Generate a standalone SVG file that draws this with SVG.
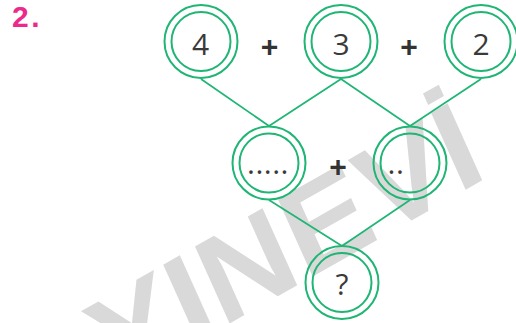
<svg xmlns="http://www.w3.org/2000/svg" width="516" height="323" viewBox="0 0 516 323">
  <style>
    .ring { fill: none; stroke: #1fb574; stroke-width: 2; }
    .conn { fill: none; stroke: #1fb574; stroke-width: 1.7; }
    .num { font-family: "Open Sans", "Liberation Sans", sans-serif; font-size: 30px; fill: #3a3a3a; text-anchor: middle; }
    .op { font-family: "Liberation Sans", sans-serif; font-size: 30px; font-weight: bold; fill: #333; text-anchor: middle; }
    .wm { font-family: "Liberation Sans", sans-serif; font-size: 123px; font-weight: bold; fill: #d9d9d9; }
  </style>
  <rect width="516" height="323" fill="#ffffff"/>

  <g id="watermark">
    <text class="wm" transform="matrix(0.933 -0.529 0.409 0.909 113.7 389.3)" x="0" y="0">YINEVİ</text>
  </g>

  <text id="title" x="12" y="27" font-family="Liberation Sans, sans-serif" font-size="30" font-weight="bold" letter-spacing="2.5" fill="#ec2a8c">2.</text>

  <g id="connectors">
    <line class="conn" x1="201" y1="79" x2="269" y2="126"/>
    <line class="conn" x1="341" y1="79" x2="269" y2="126"/>
    <line class="conn" x1="341" y1="79" x2="410" y2="126"/>
    <line class="conn" x1="481" y1="79" x2="410" y2="126"/>
    <line class="conn" x1="269" y1="200" x2="342" y2="246"/>
    <line class="conn" x1="410" y1="200" x2="342" y2="246"/>
  </g>

  <g id="node-4">
    <circle class="ring" cx="201" cy="41.5" r="36.5"/>
    <circle class="ring" cx="201" cy="41.5" r="29.5"/>
    <text class="num" x="200.5" y="54.5">4</text>
  </g>
  <g id="node-3">
    <circle class="ring" cx="341" cy="41.5" r="36.5"/>
    <circle class="ring" cx="341" cy="41.5" r="29.5"/>
    <text class="num" x="341" y="54.5">3</text>
  </g>
  <g id="node-2">
    <circle class="ring" cx="481" cy="41.5" r="36.5"/>
    <circle class="ring" cx="481" cy="41.5" r="29.5"/>
    <text class="num" x="481" y="54.5">2</text>
  </g>
  <g id="node-a">
    <circle class="ring" cx="269" cy="163" r="36.5"/>
    <circle class="ring" cx="269" cy="163" r="29.5"/>
    <text class="num" x="268" y="174" letter-spacing="0.5">.....</text>
  </g>
  <g id="node-b">
    <circle class="ring" cx="410" cy="163" r="36.5"/>
    <circle class="ring" cx="410" cy="163" r="29.5"/>
    <text class="num" x="396" y="174" letter-spacing="0.5">..</text>
  </g>
  <g id="node-q">
    <circle class="ring" cx="342" cy="282.5" r="36.5"/>
    <circle class="ring" cx="342" cy="282.5" r="29.5"/>
    <text class="num" x="342" y="295" font-size="31">?</text>
  </g>

  <g id="operators">
    <text class="op" x="269.5" y="57">+</text>
    <text class="op" x="409" y="57">+</text>
    <text class="op" x="338" y="177">+</text>
  </g>
</svg>
